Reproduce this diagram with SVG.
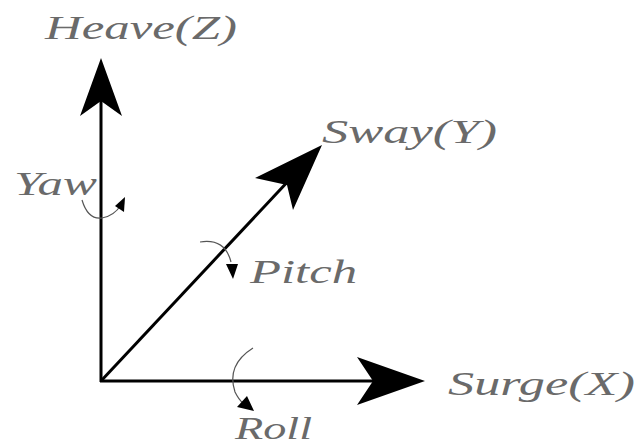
<svg xmlns="http://www.w3.org/2000/svg" width="639" height="446" viewBox="0 0 639 446">
<style>
.lbl{font-family:"Liberation Serif","DejaVu Serif",serif;font-style:italic;font-size:34px;fill:#6a6a6a}
.axis{stroke:#000;stroke-width:3;fill:none}
.head{fill:#000;stroke:none}
.rot{stroke:#555;stroke-width:1.2;fill:none}
</style>
<rect width="639" height="446" fill="#fff"/>
<g id="connectors">
<line class="axis" x1="101" y1="382" x2="101" y2="95"/>
<polygon class="head" points="101,58 122,116 101,101 80,116"/>
<line class="axis" x1="100" y1="381" x2="380" y2="381"/>
<polygon class="head" points="425,381 357,405 373,381 357,357"/>
<line class="axis" x1="101" y1="381" x2="292" y2="177"/>
<polygon class="head" points="322,145 293,210 287,185 255,178"/>
<path class="rot" d="M82,200 Q88,220 102,218 Q114,216 121,205"/>
<polygon class="head" points="125,197 124,212 115,206"/>
<path class="rot" d="M200,242 Q225,238 231,262"/>
<polygon class="head" points="233,279 226,264 238,264"/>
<path class="rot" d="M253,348 Q226,365 235,392 Q239,400 243,403"/>
<polygon class="head" points="254,411 237,407 247,396"/>
</g>
<g id="heave"><text class="lbl" x="45" y="39" textLength="192" lengthAdjust="spacingAndGlyphs">Heave(Z)</text></g>
<g id="sway"><text class="lbl" x="322" y="143" textLength="175" lengthAdjust="spacingAndGlyphs">Sway(Y)</text></g>
<g id="yaw"><text class="lbl" x="14" y="195" textLength="83" lengthAdjust="spacingAndGlyphs">Yaw</text></g>
<g id="pitch"><text class="lbl" x="250" y="283" textLength="107" lengthAdjust="spacingAndGlyphs">Pitch</text></g>
<g id="surge"><text class="lbl" x="448" y="395" textLength="187" lengthAdjust="spacingAndGlyphs">Surge(X)</text></g>
<g id="roll"><text class="lbl" x="235" y="439" style="font-size:32px" textLength="77" lengthAdjust="spacingAndGlyphs">Roll</text></g>
</svg>
